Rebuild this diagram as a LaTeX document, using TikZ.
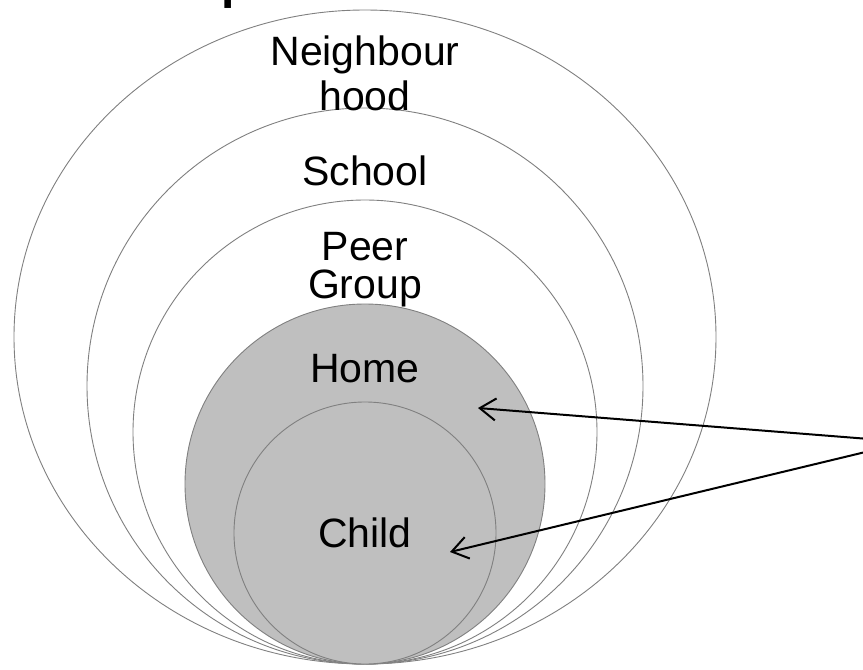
\documentclass[tikz,border=0pt]{standalone}
\usepackage{fontspec}
\setmainfont{Liberation Sans}
\usetikzlibrary{arrows.meta}

\definecolor{ringline}{HTML}{808080}
\definecolor{homefill}{HTML}{BFBFBF}

\tikzset{
  ring/.style={draw=ringline, line width=0.9pt},
  label/.style={anchor=base, inner sep=0pt, font=\fontsize{41}{45}\selectfont},
  pointer/.style={line width=2pt, -{Straight Barb[length=16pt,width=22pt]}}
}

\begin{document}
\begin{tikzpicture}[x=1pt,y=-1pt]
  \useasboundingbox (0,0) rectangle (863,670);

  % Title (cut off)
  \node[anchor=base west, inner sep=0pt, font=\fontsize{48}{50}\selectfont\bfseries] (title) at (221,-2) {p};

  % Rings
  \begin{scope}
    \draw[ring, fill=white] (365,337) ellipse (351 and 327);
    \draw[ring, fill=white] (365,386) circle (278);
    \draw[ring, fill=white] (365,432) circle (232);
    \draw[ring, fill=homefill] (365,484) circle (180);
    \draw[ring, fill=homefill] (365,533) circle (131);
  \end{scope}

  % Labels
  \node[label] (nbh) at (365,65) {Neighbour};
  \node[label] (nbh2) at (365,110) {hood};
  \node[label] (school) at (365,185) {School};
  \node[label] (peer) at (365,260) {Peer};
  \node[label] (group) at (365,298) {Group};
  \node[label] (home) at (365,382) {Home};
  \node[label] (child) at (365,547) {Child};

  % Pointers
  \coordinate (src) at (907,442);
  \coordinate (homept) at (478,408);
  \coordinate (childpt) at (450,552);
  \draw[pointer] (src) -- (homept);
  \draw[pointer] (src) -- (childpt);
\end{tikzpicture}
\end{document}
